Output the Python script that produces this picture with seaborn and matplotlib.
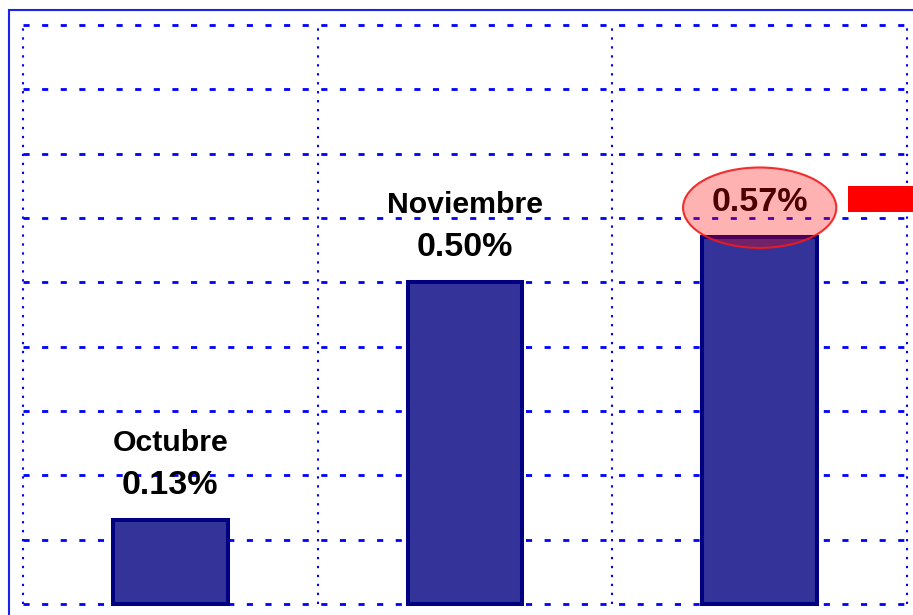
import numpy as np
import pandas as pd
import seaborn as sns
import matplotlib.pyplot as plt
from matplotlib.patches import Ellipse, Rectangle

# data
months = ["Octubre", "Noviembre", "Diciembre"]
month_labels = ["Octubre", "Noviembre", ""]
values = [0.13, 0.50, 0.57]
value_labels = ["0.13%", "0.50%", "0.57%"]
y_ticks = [0.0, 0.1, 0.2, 0.3, 0.4, 0.5, 0.6, 0.7, 0.8, 0.9]

df = pd.DataFrame({"mes": months, "valor": values})

sns.set_theme(style="white")
plt.rcParams['font.family'] = ['Liberation Sans', 'DejaVu Sans']

fig = plt.figure(figsize=(9.13, 6.15), dpi=100)
ax = fig.add_axes([23 / 913, 11 / 615, 884 / 913, 579 / 615])

sns.barplot(data=df, x="mes", y="valor", color="#333399", saturation=1,
            edgecolor="#000080", linewidth=2.9, width=0.39, ax=ax, zorder=3)
for p in ax.patches:
    p.set_clip_on(False)

ax.set_xlim(-0.5, 2.5)
ax.set_ylim(0, 0.9)
ax.set_yticks(y_ticks)
ax.set_xticks([-0.5, 0.5, 1.5, 2.5], minor=True)
ax.yaxis.grid(True, color="#0000FF", linewidth=2.0, linestyle=(0, (2.2, 4.5)))
ax.xaxis.grid(True, which="minor", color="#0000FF", linewidth=1.5, linestyle=(0, (1.1, 3.2)))
ax.xaxis.grid(False, which="major")
ax.set_axisbelow(True)
ax.tick_params(which="both", length=0, labelbottom=False, labelleft=False)
ax.set_xlabel("")
ax.set_ylabel("")
for s in ax.spines.values():
    s.set_visible(False)
for gl in ax.get_ygridlines() + ax.xaxis.get_minorticklines():
    gl.set_clip_on(False)
for t in ax.xaxis.get_minor_ticks():
    t.gridline.set_clip_on(False)

# labels above the bars
for i, v in enumerate(values):
    ax.annotate(value_labels[i], (i, v), xytext=(0, 18.7), textcoords="offset points",
                ha="center", va="baseline", fontsize=24.5, fontweight="bold",
                color="black", zorder=4, annotation_clip=False)
    if month_labels[i]:
        ax.annotate(month_labels[i], (i, v), xytext=(0, 50), textcoords="offset points",
                    ha="center", va="baseline", fontsize=21.8, fontweight="bold",
                    color="black", zorder=4, annotation_clip=False)

# highlight on the last month
ax.add_patch(Ellipse((2, values[2] + 0.046), 0.52, 0.125, facecolor=(1, 0, 0, 0.3),
                     edgecolor=(0.95, 0.1, 0.1, 0.9), linewidth=1.5, zorder=5, clip_on=False))
ax.add_patch(Rectangle((2.30, 0.610), 0.5, 0.040, facecolor="#FF0000", edgecolor="none",
                       zorder=5, clip_on=False))

# outer frame
fig.patches.append(Rectangle((8.5 / 913, -0.1), 2, (615 - 9.5) / 615 + 0.1,
                             transform=fig.transFigure, fill=False,
                             edgecolor="#2020EE", linewidth=1.5))

plt.savefig("out.png", dpi=100)
